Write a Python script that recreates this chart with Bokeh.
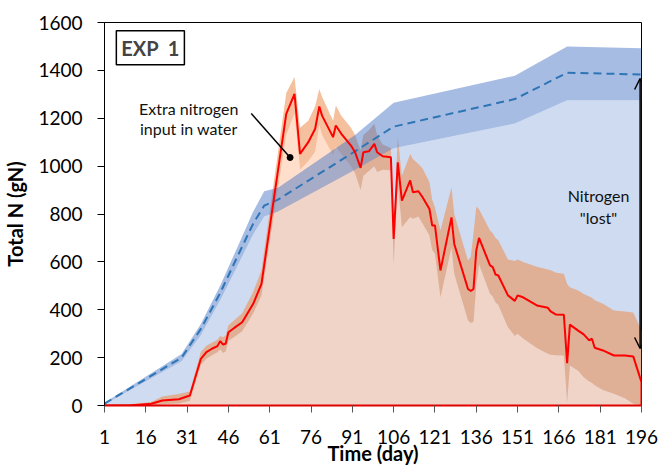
from bokeh.plotting import figure
from bokeh.models import ColumnDataSource, Arrow, OpenHead, Label, FixedTicker, Range1d
from bokeh.core.properties import value
from bokeh.embed import file_html
from bokeh.resources import INLINE

# ---------------- data ----------------
x_ticks = [1, 16, 31, 46, 61, 76, 91, 106, 121, 136, 151, 166, 181, 196]
y_ticks = [0, 200, 400, 600, 800, 1000, 1200, 1400, 1600]

blue_days = [1, 29, 36, 43, 50, 55, 59, 64, 92, 106, 150, 169, 196]
blue_mean = [8, 200, 320, 470, 640, 760, 835, 860, 1062, 1165, 1280, 1390, 1383]
blue_lower = [4, 185, 295, 440, 600, 715, 790, 810, 985, 1075, 1178, 1275, 1275]
blue_upper = [12, 215, 340, 500, 680, 810, 895, 910, 1130, 1265, 1378, 1500, 1492]

red_days = [1, 10, 18, 22, 28, 32, 36, 38, 40, 42, 43, 44, 45, 46, 48, 51,
            55, 58, 67, 70, 72, 75, 77.5, 79, 80, 84, 85, 87, 90.5, 92, 94, 95,
            97, 99, 100, 102, 105, 106, 107.5, 109, 112, 113, 115, 116.5, 119,
            120, 121, 123, 127, 128, 133, 134, 135, 136, 137, 141, 142, 143, 144,
            147.5, 150, 151, 153, 158, 162, 163, 165, 167.8, 169, 170, 173, 175,
            177, 178, 179, 182, 186, 190, 193, 196, 196]
red_mean = [0, 0, 7, 21, 26, 42, 195, 223, 237, 248, 269, 255, 258, 306, 323, 348,
            425, 508, 1218, 1302, 1051, 1100, 1156, 1249, 1211, 1121, 1170, 1135, 1086, 1058, 993, 1058,
            1062, 1093, 1058, 1041, 1037, 696, 1016, 856, 940, 891, 895, 870, 821,
            752, 752, 564, 786, 675, 487, 478, 487, 647, 700, 585, 578, 547, 543,
            460, 437, 460, 452, 418, 408, 393, 380, 379, 177, 338, 313, 297,
            272, 279, 241, 230, 209, 209, 205, 97, 0]
red_lower = [0, 0, 0, 5, 8, 20, 170, 195, 210, 222, 235, 220, 225, 270, 285, 310,
             385, 460, 1130, 1220, 985, 1020, 1060, 1170, 1130, 1045, 1080, 1050, 1000, 970, 900, 960,
             980, 1000, 975, 985, 983, 590, 930, 745, 787, 780, 790, 760, 710,
             650, 634, 452, 660, 550, 355, 345, 350, 500, 590, 467, 455, 430, 420,
             327, 290, 300, 280, 240, 216, 212, 210, 209, 14, 167, 145, 118,
             100, 95, 85, 65, 49, 30, 7, 0, 0]
red_upper = [2, 5, 15, 38, 48, 58, 225, 250, 262, 275, 290, 285, 292, 335, 355, 385,
             475, 565, 1305, 1372, 1160, 1190, 1250, 1322, 1290, 1190, 1253, 1210, 1160, 1130, 1065, 1130,
             1150, 1177, 1130, 1090, 1076, 750, 1121, 960, 1051, 1030, 1009, 990, 933,
             860, 828, 731, 912, 800, 606, 620, 720, 830, 820, 731, 720, 700, 690,
             610, 604, 610, 600, 580, 568, 565, 555, 550, 508, 494, 480, 466,
             455, 450, 440, 425, 397, 393, 388, 313, 0]

# annotation anchors (data units)
note_lines = ["Extra nitrogen", "input in water"]
note_x = [31.6, 31.6]
note_y = [1241, 1157]
pointer_from = (54.3, 1220)
pointer_to = (68.4, 1036)
lost_lines = ["Nitrogen", "\"lost\""]
lost_x = [180.4, 180.4]
lost_y = [877, 785]
lost_arrow_day = 195.5
lost_arrow_top = 1366
lost_arrow_bottom = 238
exp_label = "EXP\u00a0\u00a01"

FONT = "Lato"

blue_src = ColumnDataSource(dict(x=blue_days, m=blue_mean, lo=blue_lower, hi=blue_upper,
                                 zero=[0] * len(blue_days)))
red_src = ColumnDataSource(dict(x=red_days, m=red_mean, lo=red_lower, hi=red_upper,
                                zero=[0] * len(red_days)))

p = figure(width=660, height=468, x_range=Range1d(1, 196), y_range=Range1d(0, 1600),
           output_backend="svg", toolbar_location=None,
           min_border_left=103, min_border_right=19, min_border_top=22, min_border_bottom=63)
p.background_fill_color = "white"
p.border_fill_color = "white"
p.xgrid.visible = False
p.ygrid.visible = False
p.outline_line_color = "black"
p.outline_line_width = 1

# layers
p.varea(x="x", y1="zero", y2="lo", source=blue_src, fill_color="#4472c4", fill_alpha=0.26)
p.varea(x="x", y1="zero", y2="lo", source=red_src, fill_color="#ffd1b3", fill_alpha=0.69)
p.varea(x="x", y1="lo", y2="hi", source=red_src, fill_color="#ec8a4a", fill_alpha=0.54)
p.varea(x="x", y1="lo", y2="hi", source=blue_src, fill_color="#4472c4", fill_alpha=0.48)
p.line(x="x", y="m", source=blue_src, line_color="#2e75b6", line_width=2, line_dash="8 5")
p.line(x="x", y="m", source=red_src, line_color="#ff0000", line_width=2)

# annotations
p.segment(x0=[pointer_from[0]], y0=[pointer_from[1]], x1=[pointer_to[0]], y1=[pointer_to[1]],
          line_color="black", line_width=1.5)
p.scatter(x=[pointer_to[0]], y=[pointer_to[1]], size=6, color="black")
p.text(x=note_x, y=note_y, text=note_lines, text_font=value(FONT), text_font_size="16px",
       text_align="center", text_baseline="alphabetic", text_color="#111111")
p.text(x=lost_x, y=lost_y, text=lost_lines, text_font=value(FONT), text_font_size="16px",
       text_align="center", text_baseline="alphabetic", text_color="#111111")
p.add_layout(Arrow(start=OpenHead(size=11, line_width=1.5), end=OpenHead(size=11, line_width=1.5),
                   x_start=lost_arrow_day, y_start=lost_arrow_bottom,
                   x_end=lost_arrow_day, y_end=lost_arrow_top,
                   line_color="black", line_width=1.5))

p.add_layout(Label(x=5.3, y=1566, text=exp_label, text_font=FONT, text_font_style="bold",
                   text_font_size="20px", text_align="left", text_baseline="top",
                   border_line_color="black", border_line_width=1.5,
                   background_fill_color="white", padding=5))

# axes
for ax in (p.xaxis[0], p.yaxis[0]):
    ax.major_label_text_font = FONT
    ax.major_label_text_font_size = "19px"
    ax.major_label_text_color = "black"
    ax.axis_label_text_font = FONT
    ax.axis_label_text_font_size = "20px"
    ax.axis_label_text_font_style = "bold"
    ax.axis_label_text_color = "black"
    ax.minor_tick_line_color = None
    ax.major_tick_in = 0
    ax.major_tick_out = 7

p.xaxis.ticker = FixedTicker(ticks=x_ticks)
p.yaxis.ticker = FixedTicker(ticks=y_ticks)
p.xaxis.axis_label = "Time (day)"
p.yaxis.axis_label = "Total N (gN)"
p.xaxis.axis_line_color = "#e00000"
p.xaxis.axis_line_width = 2
p.xaxis.major_tick_line_color = "#555555"
p.xaxis.major_label_standoff = 17
p.xaxis.axis_label_standoff = -6
p.yaxis.axis_line_color = "black"
p.yaxis.major_tick_line_color = "black"
p.yaxis.major_label_standoff = 15
p.yaxis.axis_label_standoff = 8

open("out.html", "w").write(file_html(p, INLINE))
